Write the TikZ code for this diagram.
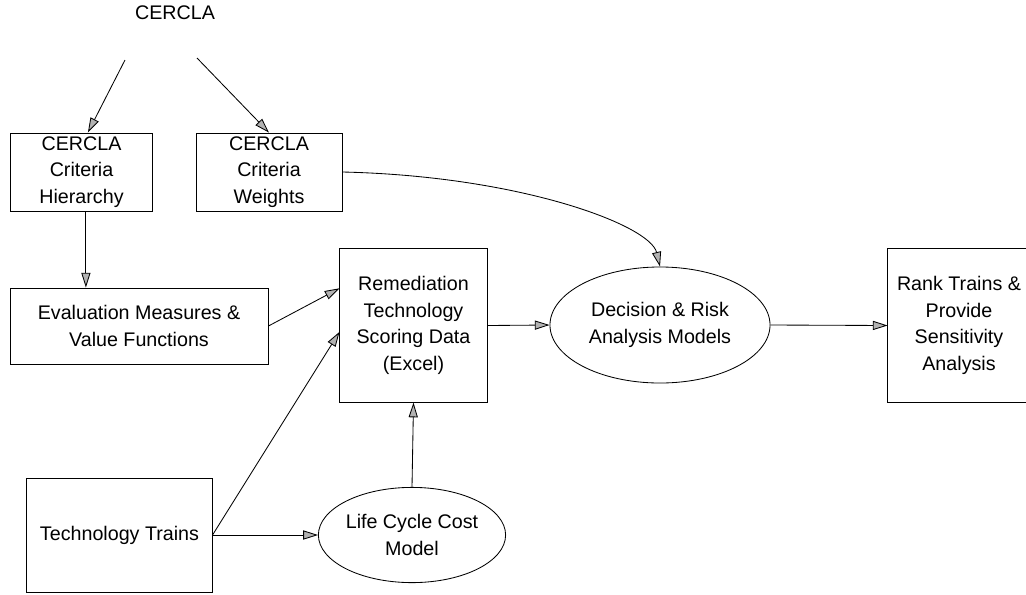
\documentclass[tikz,border=0pt]{standalone}
\usepackage{fontspec}
\setmainfont{Liberation Sans}
\usetikzlibrary{shapes.geometric,arrows.meta}

\begin{document}
\begin{tikzpicture}[x=0.025cm,y=0.025cm,
    font=\fontsize{14}{18.8}\selectfont,
    box/.style={draw,line width=0.6pt,rectangle,align=center,inner sep=0pt},
    oval/.style={draw,line width=0.6pt,ellipse,align=center,inner sep=0pt},
    link/.style={line width=0.6pt,-{Triangle[length=10.5pt,width=6.5pt,fill=gray!60]}}]
\useasboundingbox (0,0) rectangle (1026,-594);

% Source
\node (cercla) at (175,-13) {CERCLA};
\coordinate (cerclaL) at (125,-60);
\coordinate (cerclaR) at (197,-58);

% Criteria boxes
\node[box,minimum width=3.53cm,minimum height=1.95cm] (hier) at (81.5,-172) {CERCLA\\Criteria\\Hierarchy};
\node[box,minimum width=3.65cm,minimum height=1.95cm] (weights) at (269,-172) {CERCLA\\Criteria\\Weights};
\node[box,minimum width=6.45cm,minimum height=1.9cm] (eval) at (139,-326) {Evaluation Measures \&\\Value Functions};

% Scoring data and models
\node[box,minimum width=3.68cm,minimum height=3.83cm] (remed) at (413.5,-325.5) {Remediation\\Technology\\Scoring Data\\(Excel)};
\node[oval,minimum width=5.5cm,minimum height=2.9cm] (decision) at (660,-325) {Decision \& Risk\\Analysis Models};
\node[box,draw=none,minimum width=3.55cm,minimum height=3.83cm] (rank) at (959,-325.5) {Rank Trains \&\\Provide\\Sensitivity\\Analysis};
% box runs past the right edge
\draw[line width=0.6pt] ([xshift=0.3cm]rank.north east) -- (rank.north west) -- (rank.south west) -- ([xshift=0.3cm]rank.south east);

% Trains and cost
\node[box,minimum width=4.63cm,minimum height=2.85cm] (trains) at (119.5,-535) {Technology Trains};
\node[oval,minimum width=4.13cm,minimum height=2.38cm] (lcc) at (412,-535) {Life Cycle Cost\\Model};

% Connectors
\draw[link] (cerclaL) -- ([xshift=0.16cm]hier.north);
\draw[link] (cerclaR) -- (weights.north);
\draw[link] ([xshift=0.11cm]hier.south) -- ([xshift=0.11cm]hier.south |- eval.north);
\draw[link] (weights.east) .. controls (520,-176) and (650,-225) .. (decision.north);
\draw[link] (eval.east) -- ([yshift=0.93cm]remed.west);
\draw[link] (trains.east) -- ([yshift=-0.16cm]remed.west);
\draw[link] (trains.east) -- (lcc.west);
\draw[link] (lcc.north) -- (remed.south);
\draw[link] (remed.east) -- (decision.west);
\draw[link] (decision.east) -- (rank.west);

\end{tikzpicture}
\end{document}
